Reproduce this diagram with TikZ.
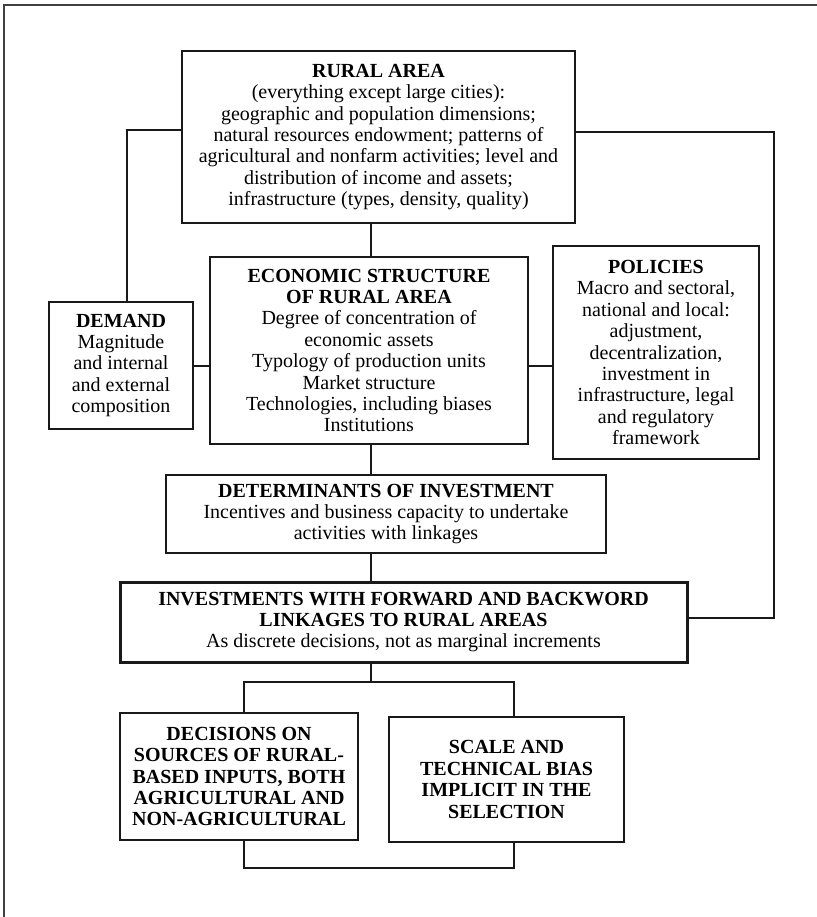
\documentclass[tikz,border=0pt]{standalone}
\usepackage{fontspec}
\setmainfont{Liberation Serif}
\begin{document}
\begin{tikzpicture}[x=1pt,y=-1pt,
  every node/.style={font=\fontsize{20}{21.4}\selectfont},
  box/.style={draw=black!90,line width=2pt,align=center,inner sep=0pt},
  thickbox/.style={box,line width=3pt},
  conn/.style={draw=black!90,line width=2pt}]
\useasboundingbox (0,0) rectangle (816,917);
\draw[black!75,line width=1.6pt] (4,5) rectangle (840,940);
\node[box,minimum width=393pt,minimum height=172pt] (rural) at (378.5,137)
 {\textbf{RURAL AREA}\\(everything except large cities):\\geographic and population dimensions;\\natural resources endowment; patterns of\\agricultural and nonfarm activities; level and\\distribution of income and assets;\\infrastructure (types, density, quality)};
\node[box,minimum width=318pt,minimum height=187pt] (econ) at (369,350.5)
 {\textbf{ECONOMIC STRUCTURE}\\\textbf{OF RURAL AREA}\\Degree of concentration of\\economic assets\\Typology of production units\\Market structure\\Technologies, including biases\\Institutions};
\node[box,minimum width=206pt,minimum height=213pt] (pol) at (656,352.5)
 {\textbf{POLICIES}\\Macro and sectoral,\\national and local:\\adjustment,\\decentralization,\\investment in\\infrastructure, legal\\and regulatory\\framework};
\node[box,minimum width=144pt,minimum height=127pt] (dem) at (121,365.5)
 {\textbf{DEMAND}\\Magnitude\\and internal\\and external\\composition};
\node[box,minimum width=440pt,minimum height=78pt] (det) at (386,514)
 {\textbf{DETERMINANTS OF INVESTMENT}\\Incentives and business capacity to undertake\\activities with linkages};
\node[thickbox,minimum width=567pt,minimum height=80pt] (inv) at (403.5,622)
 {\textbf{INVESTMENTS WITH FORWARD AND BACKWORD}\\\textbf{LINKAGES TO RURAL AREAS}\\As discrete decisions, not as marginal increments};
\node[box,minimum width=238pt,minimum height=127pt] (dec) at (239,776.5)
 {\textbf{DECISIONS ON}\\\textbf{SOURCES OF RURAL-}\\\textbf{BASED INPUTS, BOTH}\\\textbf{AGRICULTURAL AND}\\\textbf{NON-AGRICULTURAL}};
\node[box,minimum width=235pt,minimum height=125pt] (scale) at (506.5,779.5)
 {\textbf{SCALE AND}\\\textbf{TECHNICAL BIAS}\\\textbf{IMPLICIT IN THE}\\\textbf{SELECTION}};
\coordinate (spine) at (371,0);
\coordinate (lc) at (127,130);
\coordinate (rc) at (774,132);
\coordinate (rb) at (774,618);
\coordinate (mid) at (0,366);
\coordinate (split) at (371,682);
\coordinate (dl) at (244,0);
\coordinate (dr) at (514,0);
\coordinate (bot) at (0,868);
\draw[conn] (rural.west |- lc) -- (lc) -- (lc |- dem.north);
\draw[conn] (rural.east |- rc) -- (rc) -- (rb) -- (inv.east |- rb);
\draw[conn] (rural.south -| spine) -- (econ.north -| spine);
\draw[conn] (dem.east |- mid) -- (econ.west |- mid);
\draw[conn] (econ.east |- mid) -- (pol.west |- mid);
\draw[conn] (econ.south -| spine) -- (det.north -| spine);
\draw[conn] (det.south -| spine) -- (inv.north -| spine);
\draw[conn] (inv.south -| spine) -- (split);
\draw[conn] (dec.north -| dl) -- (split -| dl) -- (split -| dr) -- (scale.north -| dr);
\draw[conn] (dec.south -| dl) -- (bot -| dl) -- (bot -| dr) -- (scale.south -| dr);
\end{tikzpicture}
\end{document}
